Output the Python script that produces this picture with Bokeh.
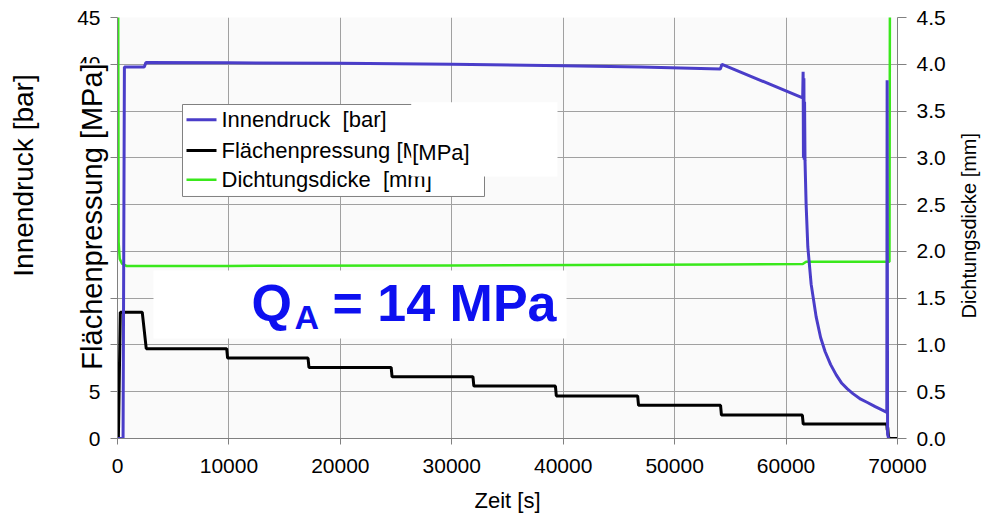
import numpy as np
from bokeh.plotting import figure
from bokeh.models import (Range1d, LinearAxis, Label, BoxAnnotation,
                          FixedTicker, NumeralTickFormatter)
from bokeh.embed import file_html
from bokeh.resources import INLINE

# ---------------- data ----------------
x_ticks = [0, 10000, 20000, 30000, 40000, 50000, 60000, 70000]
left_ticks = [0, 5, 10, 15, 20, 25, 30, 35, 40, 45]
right_ticks = [0.0, 0.5, 1.0, 1.5, 2.0, 2.5, 3.0, 3.5, 4.0, 4.5]

series_labels = ["Innendruck  [bar]", "Flächenpressung [MPa]", "Dichtungsdicke  [mm]"]

# Innendruck [bar] (left axis)
innendruck_t = [0, 500, 620, 2400, 2550, 10000, 20000, 30000, 40000, 47000, 54100, 54250,
                61490, 61530, 61560, 61600, 61630, 61660, 61700, 61800, 61950, 62250,
                62700, 63100, 63500, 64000, 64500, 65000, 65500, 66000, 66700, 67300,
                68000, 68600, 69040, 69070, 69110, 69200]
innendruck_bar = [0, 0, 39.7, 39.7, 40.2, 40.15, 40.1, 40.0, 39.85, 39.7, 39.5, 40.0,
                  36.4, 39.2, 30.0, 38.5, 29.8, 36.0, 29.7, 25.0, 20.5, 16.5,
                  13.0, 10.8, 9.3, 7.9, 6.8, 5.9, 5.3, 4.8, 4.2, 3.85,
                  3.4, 3.05, 2.8, 38.3, 0.5, 0]

# Flaechenpressung [MPa] (left axis)
flaechen_t = [0, 80, 250, 2220, 2580, 9800, 9880, 17100, 17180, 24560, 24640,
              31900, 31980, 39300, 39380, 46680, 46760, 54120, 54200, 61460, 61540,
              69040, 69080, 69120, 69180, 69250, 70000]
flaechen_mpa = [0, 0, 13.5, 13.5, 9.6, 9.6, 8.6, 8.6, 7.6, 7.6, 6.6,
                6.6, 5.6, 5.6, 4.55, 4.55, 3.55, 3.55, 2.5, 2.5, 1.55,
                1.55, 0.9, 1.2, 0.3, 0, 0]

# Dichtungsdicke [mm] (right axis)
dicke_t = [60, 100, 200, 400, 800, 10000, 30000, 54000, 61500, 61800, 69280, 69320]
dicke_mm = [4.8, 2.1, 1.92, 1.87, 1.845, 1.845, 1.85, 1.86, 1.865, 1.89, 1.89, 4.8]

# ---------------- styling ----------------
FONT = "Liberation Sans"
BLUE = "#4a3dc9"
GREEN = "#3ae81c"
GRID = "#a0a0a0"
AXIS = "#808080"
COLORS = [BLUE, "black", GREEN]

p = figure(width=981, height=522, x_range=Range1d(0, 70000), y_range=Range1d(0, 45),
           output_backend="svg", toolbar_location=None,
           min_border_left=117, min_border_right=84, min_border_top=17, min_border_bottom=84)
p.background_fill_color = "#fafafa"
p.border_fill_color = "white"
p.outline_line_color = None

p.extra_y_ranges = {"dicke": Range1d(0, 4.5)}
raxis = LinearAxis(y_range_name="dicke")
p.add_layout(raxis, "right")

for ax in (p.xaxis[0], p.yaxis[0], raxis):
    ax.axis_line_color = AXIS
    ax.major_tick_line_color = AXIS
    ax.minor_tick_line_color = None
    ax.major_tick_in = 0
    ax.major_label_text_font = FONT
    ax.major_label_text_font_size = "21px"
    ax.major_label_text_color = "black"
    ax.axis_label_text_font = FONT
    ax.axis_label_text_font_style = "normal"
    ax.axis_label_text_color = "black"

p.xaxis.ticker = FixedTicker(ticks=x_ticks)
p.xaxis.formatter = NumeralTickFormatter(format="0")
p.xaxis.major_tick_out = 6
p.xaxis.major_label_standoff = 14
p.xaxis.axis_label = "Zeit [s]"
p.xaxis.axis_label_text_font_size = "22px"
p.xaxis.axis_label_standoff = 12

p.yaxis[0].ticker = FixedTicker(ticks=left_ticks)
p.yaxis[0].major_tick_out = 7
p.yaxis[0].major_label_standoff = 10

raxis.ticker = FixedTicker(ticks=right_ticks)
raxis.formatter = NumeralTickFormatter(format="0.0")
raxis.major_tick_out = 9
raxis.major_label_standoff = 10

p.xgrid.grid_line_color = GRID
p.ygrid.grid_line_color = GRID

# ---------------- lines ----------------
r_green = p.line(dicke_t, dicke_mm, y_range_name="dicke", line_color=GREEN, line_width=2.5)
r_black = p.line(flaechen_t, flaechen_mpa, line_color="black", line_width=3)
r_blue = p.line(innendruck_t, innendruck_bar, line_color=BLUE, line_width=3)

# ---------------- legend (drawn as annotations so it can be partly covered) ----------------
p.add_layout(BoxAnnotation(left=5833, right=32936, bottom=25.87, top=35.70,
                           fill_color="white", fill_alpha=1.0,
                           line_color=AXIS, line_width=1, line_alpha=1.0))
row_centers = [34.07, 30.78, 27.65]      # legend row centres (left-axis units)
row_baselines = [319.2, 288.5, 259.2]    # legend text anchors (screen px above frame bottom)
half_th = [0.16, 0.16, 0.13]
for lab, col, yc, yb, h in zip(series_labels, COLORS, row_centers, row_baselines, half_th):
    p.add_layout(BoxAnnotation(left=6192, right=8885, bottom=yc - h, top=yc + h,
                               fill_color=col, fill_alpha=1.0, line_color=None))
    p.add_layout(Label(x=104, y=yb, x_units="screen", y_units="screen",
                       text=lab.replace("  ", " \u00a0"),
                       text_font=FONT, text_font_size="22px", text_color="black",
                       text_baseline="alphabetic"))

# white patch over part of the legend with "[MPa]"
p.add_layout(BoxAnnotation(left=26358, right=39487, bottom=28.0, top=35.95,
                           fill_color="white", fill_alpha=1.0, line_color=None,
                           level="overlay"))
p.add_layout(Label(x=294.7, y=286, x_units="screen", y_units="screen", text="[MPa]",
                   text_font=FONT, text_font_size="22px", text_color="black",
                   text_baseline="alphabetic", level="overlay"))

# white box with Q_A = 14 MPa
p.add_layout(BoxAnnotation(left=3231, right=40295, bottom=10.69, top=17.96,
                           fill_color="white", fill_alpha=1.0, line_color=None))
QCOL = "#0d10f0"
p.add_layout(Label(x=134, y=136, x_units="screen", y_units="screen", text="Q",
                   text_font=FONT, text_font_size="52px", text_font_style="bold",
                   text_color=QCOL, text_baseline="alphabetic", level="overlay"))
p.add_layout(Label(x=177, y=122, x_units="screen", y_units="screen", text="A",
                   text_font=FONT, text_font_size="34px", text_font_style="bold",
                   text_color=QCOL, text_baseline="alphabetic", level="overlay"))
p.add_layout(Label(x=215, y=136, x_units="screen", y_units="screen", text="= 14 MPa",
                   text_font=FONT, text_font_size="52px", text_font_style="bold",
                   text_color=QCOL, text_baseline="alphabetic", level="overlay"))

# axis titles (placed in side panels, positioned in data coordinates)
p.add_layout(Label(x=-8418, y=28.11, text="Innendruck [bar]",
                   angle=np.pi / 2, text_align="center", text_baseline="alphabetic",
                   text_font=FONT, text_font_size="28px", text_color="black"), "left")
p.add_layout(Label(x=-2300, y=23.73, text="Flächenpressung [MPa]", angle=np.pi / 2,
                   text_align="center", text_baseline="alphabetic", text_font=FONT,
                   text_font_size="29px", text_color="black",
                   background_fill_color="white", background_fill_alpha=1.0), "left")
p.add_layout(Label(x=76372, y=23.04, text="Dichtungsdicke  [mm]", angle=np.pi / 2,
                   text_align="center", text_baseline="alphabetic", text_font=FONT,
                   text_font_size="20px", text_color="black"), "right")

open("out.html", "w").write(file_html(p, INLINE))
